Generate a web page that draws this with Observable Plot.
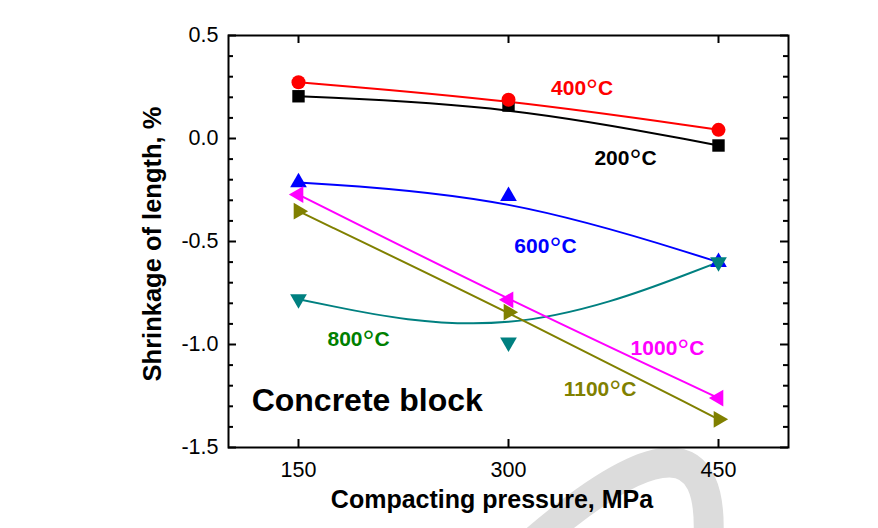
<!DOCTYPE html>
<html><head><meta charset="utf-8">
<script src="https://cdn.jsdelivr.net/npm/d3@7"></script>
<script src="https://cdn.jsdelivr.net/npm/@observablehq/plot@0.6"></script>
<style>body{margin:0;background:#fff;} #chart{position:relative;width:878px;height:528px;}</style>
</head><body><div id="chart"></div>
<script>
// ---- data ----
const pressure = [150, 300, 450];
const series = ["200°C", "400°C", "600°C", "800°C", "1000°C", "1100°C"];
const s200  = [0.205, 0.160, -0.034];
const s400  = [0.273, 0.188, 0.042];
const s600  = [-0.213, -0.280, -0.600];
const s800  = [-0.780, -0.990, -0.600];
const s1000 = [-0.272, -0.783, -1.260];
const s1100 = [-0.353, -0.843, -1.363];
const values = [s200, s400, s600, s800, s1000, s1100];
const lineColors  = ["#000000", "#ff0000", "#0000ff", "#008080", "#ff00ff", "#808000"];
const labelColors = ["#000000", "#ff0000", "#0000ff", "#008000", "#ff00ff", "#808000"];
const symbols = ["square", "circle", "triangle", "triangle", "triangle", "triangle"];
const rotations = [0, 0, 0, 180, -90, 90];
// label anchor positions (data units)
const labelX = [383.6, 352.6, 326.4, 192.9, 413.6, 365.4];
const labelY = [-0.094, 0.245, -0.522, -0.977, -1.017, -1.215];
const xTicks = [150, 300, 450];
const yMajor = [-1.5, -1.0, -0.5, 0.0, 0.5];
const yMinor = [-1.4, -1.3, -1.2, -1.1, -0.9, -0.8, -0.7, -0.6, -0.4, -0.3, -0.2, -0.1, 0.1, 0.2, 0.3, 0.4];
const xTitle = "Compacting pressure, MPa";
const yTitle = "Shrinkage of length, %";
const panelNote = "Concrete block";
const panelNoteX = 199.1, panelNoteY = -1.272;

// ---- build ----
const W = 878, H = 528, mL = 228, mR = 90, mT = 35, mB = 81;
const fw = W - mL - mR, fh = H - mT - mB;
const marks = [];
series.forEach((s, i) => {
  const rows = pressure.map((p, j) => ({x: p, y: values[i][j]}));
  marks.push(Plot.line(rows, {x: "x", y: "y", stroke: lineColors[i], strokeWidth: 2, curve: "basis"}));
});
series.forEach((s, i) => {
  const rows = pressure.map((p, j) => ({x: p, y: values[i][j]}));
  marks.push(Plot.dot(rows, {x: "x", y: "y", symbol: symbols[i], r: symbols[i] === "triangle" ? 6.2 : 7, fill: lineColors[i], stroke: "none", rotate: rotations[i]}));
});
const labels = series.map((s, i) => ({text: s, x: labelX[i], y: labelY[i], c: labelColors[i]}));
marks.push(Plot.text(labels, {x: "x", y: "y", text: "text", fill: d => d.c, fontSize: 21, fontWeight: "bold"}));
marks.push(Plot.text([panelNote], {x: () => panelNoteX, y: () => panelNoteY, text: d => d, fontSize: 32, fontWeight: "bold", fill: "black"}));

// ticks (inward)
marks.push(Plot.tickY(yMajor, {y: d => d, insetRight: fw - 8, strokeWidth: 2}));
marks.push(Plot.tickY(yMinor, {y: d => d, insetRight: fw - 5, strokeWidth: 2}));
marks.push(Plot.tickY(yMajor, {y: d => d, insetLeft: fw - 8, strokeWidth: 2}));
marks.push(Plot.tickY(yMinor, {y: d => d, insetLeft: fw - 5, strokeWidth: 2}));
marks.push(Plot.tickX(xTicks, {x: d => d, insetTop: fh - 8, strokeWidth: 2}));
marks.push(Plot.tickX(xTicks, {x: d => d, insetBottom: fh - 8, strokeWidth: 2}));
marks.push(Plot.frame({stroke: "black", strokeWidth: 2}));

marks.push(Plot.axisX(xTicks, {tickSize: 0, tickPadding: 14, fontSize: 21.5, label: null, tickFormat: d => String(d)}));
marks.push(Plot.axisY(yMajor, {tickSize: 0, tickPadding: 10, fontSize: 21.5, label: null, tickFormat: d => d.toFixed(1)}));
marks.push(Plot.text([xTitle], {frameAnchor: "bottom", textAnchor: "middle", lineAnchor: "middle", text: d => d, dx: -16.5, dy: 52, fontSize: 25, fontWeight: "bold"}));
marks.push(Plot.text([yTitle], {frameAnchor: "left", textAnchor: "middle", lineAnchor: "middle", text: d => d, rotate: -90, dx: -76, dy: 2.5, fontSize: 25.5, fontWeight: "bold"}));

const chart = Plot.plot({
  width: W, height: H,
  marginLeft: mL, marginRight: mR, marginTop: mT, marginBottom: mB,
  x: {domain: [100, 500]},
  y: {domain: [-1.5, 0.5]},
  style: {fontFamily: "'Liberation Sans', Arial, sans-serif", background: "transparent", color: "black"},
  marks
});

// degree-sign styling for temperature labels
chart.querySelectorAll("text").forEach(t => {
  const s = t.textContent;
  if (/^\d+°C$/.test(s) && t.children.length === 0) {
    const num = s.replace("°C", "");
    t.textContent = "";
    const ns = "http://www.w3.org/2000/svg";
    const a = document.createElementNS(ns, "tspan"); a.textContent = num;
    const b = document.createElementNS(ns, "tspan"); b.textContent = "°"; b.setAttribute("font-size", "30"); b.setAttribute("dy", "5"); b.setAttribute("font-weight", "normal");
    const c = document.createElementNS(ns, "tspan"); c.textContent = "C"; c.setAttribute("dy", "-5"); c.setAttribute("font-size", "21");
    t.append(a, b, c);
  }
});

// faint background watermark arc
const wm = document.createElementNS("http://www.w3.org/2000/svg", "path");
wm.setAttribute("d", "M 530 545 Q 720 380 708 545");
wm.setAttribute("fill", "none");
wm.setAttribute("stroke", "#dcdcdc");
wm.setAttribute("stroke-width", "30");
const firstG = chart.querySelector("g");
chart.insertBefore(wm, firstG);

document.getElementById("chart").appendChild(chart);
</script>
</body></html>
